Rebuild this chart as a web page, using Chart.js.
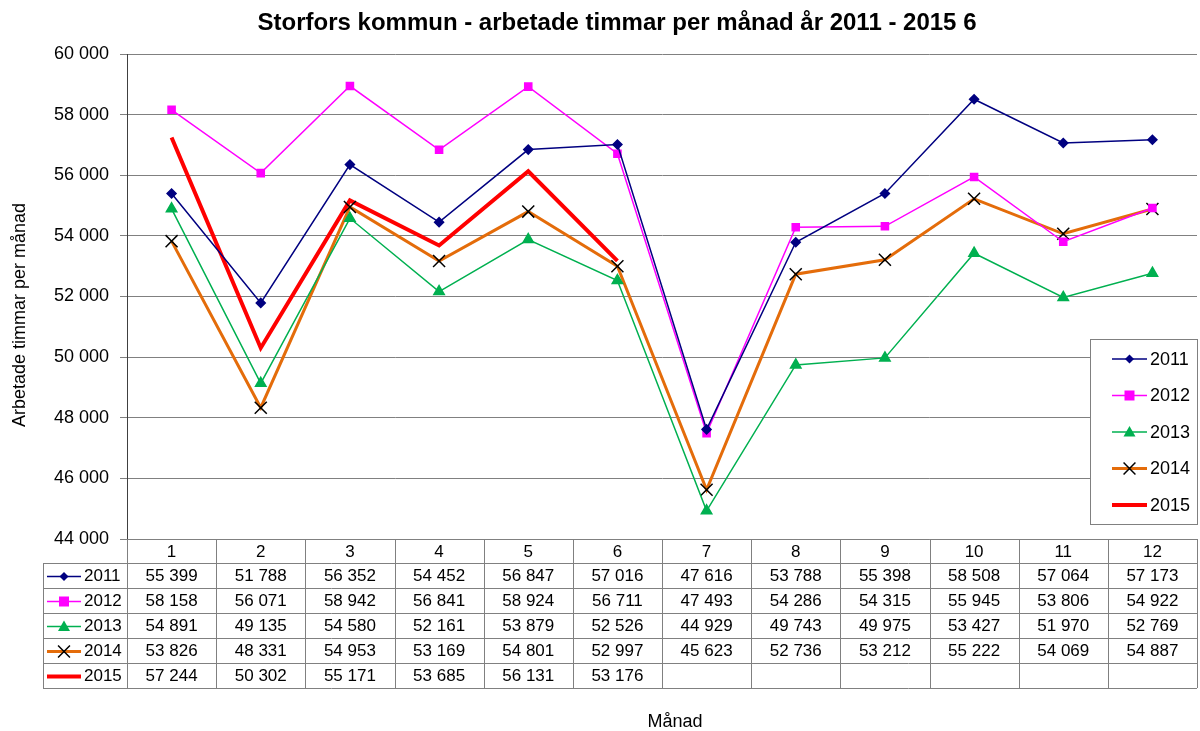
<!DOCTYPE html>
<html>
<head>
<meta charset="utf-8">
<script src="https://cdn.jsdelivr.net/npm/chart.js@4"></script>
<style>
  body { margin: 0; background: #fff; }
  #wrap { width: 1200px; height: 731px; }
</style>
</head>
<body>
<div id="wrap"><canvas id="canvas" width="1200" height="731"></canvas></div>
<script>
const months = ['1', '2', '3', '4', '5', '6', '7', '8', '9', '10', '11', '12'];
const years = ['2011', '2012', '2013', '2014', '2015'];
const v2011 = [55399, 51788, 56352, 54452, 56847, 57016, 47616, 53788, 55398, 58508, 57064, 57173];
const v2012 = [58158, 56071, 58942, 56841, 58924, 56711, 47493, 54286, 54315, 55945, 53806, 54922];
const v2013 = [54891, 49135, 54580, 52161, 53879, 52526, 44929, 49743, 49975, 53427, 51970, 52769];
const v2014 = [53826, 48331, 54953, 53169, 54801, 52997, 45623, 52736, 53212, 55222, 54069, 54887];
const v2015 = [57244, 50302, 55171, 53685, 56131, 53176, null, null, null, null, null, null];
const yTicks = [44000, 46000, 48000, 50000, 52000, 54000, 56000, 58000, 60000];

const FONT = "'Liberation Sans', Arial, sans-serif";
const fmt = v => v == null ? '' : String(v).replace(/\B(?=(\d{3})+(?!\d))/g, ' ');
const PLOT_RIGHT = 1197;

// marker drawing, shared by legend and table
function marker(ctx, ds, x, y) {
  const s = ds.pointStyle, r = ds.pointRadius;
  if (!s || !r) return;
  ctx.save();
  ctx.fillStyle = ds.pointBackgroundColor;
  ctx.strokeStyle = ds.pointBorderColor;
  ctx.lineWidth = 1.5;
  ctx.beginPath();
  if (s === 'rectRot') {
    ctx.moveTo(x, y - r); ctx.lineTo(x + r, y); ctx.lineTo(x, y + r); ctx.lineTo(x - r, y); ctx.closePath(); ctx.fill();
  } else if (s === 'rect') {
    ctx.fillRect(x - r, y - r, 2 * r, 2 * r);
  } else if (s === 'triangle') {
    ctx.moveTo(x, y - r); ctx.lineTo(x + r, y + r * 0.75); ctx.lineTo(x - r, y + r * 0.75); ctx.closePath(); ctx.fill();
  } else if (s === 'crossRot') {
    const h = r * 0.7;
    ctx.moveTo(x - h, y - h); ctx.lineTo(x + h, y + h); ctx.moveTo(x + h, y - h); ctx.lineTo(x - h, y + h); ctx.stroke();
  }
  ctx.restore();
}

function sample(ctx, ds, x0, x1, y) {
  ctx.save();
  ctx.strokeStyle = ds.borderColor;
  ctx.lineWidth = ds.borderWidth;
  ctx.beginPath(); ctx.moveTo(x0, y); ctx.lineTo(x1, y); ctx.stroke();
  ctx.restore();
  marker(ctx, ds, (x0 + x1) / 2, y);
}

const extras = {
  id: 'extras',
  afterLayout(chart) {
    // stretch the plot to the right edge of the picture
    chart.chartArea.right = PLOT_RIGHT;
    chart.chartArea.width = PLOT_RIGHT - chart.chartArea.left;
    const x = chart.scales.x;
    x.right = PLOT_RIGHT;
    x.width = PLOT_RIGHT - x.left;
    x.configure();
  },
  afterDraw(chart) {
    const ctx = chart.ctx, a = chart.chartArea, x = chart.scales.x;
    const ds = chart.data.datasets;
    const half = (x.getPixelForValue(1) - x.getPixelForValue(0)) / 2;
    ctx.save();
    ctx.fillStyle = '#000';
    ctx.textBaseline = 'middle';

    // title + axis titles
    ctx.font = 'bold 24px ' + FONT;
    ctx.textAlign = 'center';
    ctx.fillText('Storfors kommun - arbetade timmar per månad år 2011 - 2015 6', 617, 23);
    ctx.font = '18px ' + FONT;
    ctx.fillText('Månad', 675, 722);
    ctx.save();
    ctx.translate(20, 315);
    ctx.rotate(-Math.PI / 2);
    ctx.fillText('Arbetade timmar per månad', 0, 0);
    ctx.restore();

    // data table
    const headH = 24, rowH = 25, tblLeft = 43;
    const top = a.bottom;
    const bottom = top + headH + rowH * ds.length;
    ctx.strokeStyle = '#808080';
    ctx.lineWidth = 1;
    ctx.beginPath();
    ctx.moveTo(a.left, top + 0.5); ctx.lineTo(a.right, top + 0.5);
    for (let r = 0; r <= ds.length; r++) {
      const yy = Math.round(top + headH + r * rowH) + 0.5;
      ctx.moveTo(tblLeft, yy); ctx.lineTo(a.right, yy);
    }
    ctx.moveTo(tblLeft + 0.5, top + headH); ctx.lineTo(tblLeft + 0.5, bottom);
    for (let i = 0; i <= months.length; i++) {
      const xx = Math.round(x.getPixelForValue(0) - half + i * 2 * half) + 0.5;
      ctx.moveTo(xx, top); ctx.lineTo(xx, bottom);
    }
    ctx.stroke();

    ctx.font = '17px ' + FONT;
    ctx.textAlign = 'center';
    months.forEach((m, i) => ctx.fillText(m, x.getPixelForValue(i), top + headH / 2 + 1));
    ds.forEach((d, r) => {
      const cy = top + headH + r * rowH + rowH / 2 + 1;
      sample(ctx, d, 47, 81, cy);
      ctx.fillStyle = '#000';
      ctx.textAlign = 'left';
      ctx.fillText(d.label, 84, cy);
      ctx.textAlign = 'center';
      d.data.forEach((v, i) => ctx.fillText(fmt(v), x.getPixelForValue(i), cy));
    });

    // legend box
    const lx = 1090, ly = 339, lw = a.right - lx, lh = 185;
    ctx.fillStyle = '#fff';
    ctx.fillRect(lx, ly, lw, lh);
    ctx.strokeStyle = '#808080';
    ctx.strokeRect(lx + 0.5, ly + 0.5, lw, lh);
    ctx.font = '18px ' + FONT;
    ds.forEach((d, r) => {
      const cy = 359 + r * 36.5;
      sample(ctx, d, 1112, 1147, cy);
      ctx.fillStyle = '#000';
      ctx.textAlign = 'left';
      ctx.fillText(d.label, 1150, cy + 1);
    });
    ctx.restore();
  }
};

const ctx = document.getElementById('canvas').getContext('2d');

new Chart(ctx, {
  type: 'line',
  data: {
    labels: months,
    datasets: [
      { label: years[0], data: v2011, borderColor: '#000080', borderWidth: 1.5, pointStyle: 'rectRot', pointRadius: 4.5,
        pointBackgroundColor: '#000080', pointBorderColor: '#000080' },
      { label: years[1], data: v2012, borderColor: '#FF00FF', borderWidth: 1.5, pointStyle: 'rect', pointRadius: 5,
        pointBackgroundColor: '#FF00FF', pointBorderColor: '#FF00FF' },
      { label: years[2], data: v2013, borderColor: '#00B050', borderWidth: 1.5, pointStyle: 'triangle', pointRadius: 6,
        pointBackgroundColor: '#00B050', pointBorderColor: '#00B050' },
      { label: years[3], data: v2014, borderColor: '#E46C0A', borderWidth: 3, pointStyle: 'crossRot', pointRadius: 8.5,
        pointBackgroundColor: '#000', pointBorderColor: '#000', pointBorderWidth: 1.5 },
      { label: years[4], data: v2015, borderColor: '#FF0000', borderWidth: 4, pointStyle: false, pointRadius: 0 }
    ]
  },
  options: {
    responsive: false,
    animation: false,
    layout: { padding: { left: 0, top: 54, right: 3, bottom: 192 } },
    plugins: { legend: { display: false }, title: { display: false }, tooltip: { enabled: false } },
    elements: { line: { tension: 0 } },
    scales: {
      x: { display: false, offset: true },
      y: {
        min: 44000, max: 60000,
        afterFit: s => { s.width = 127; },
        afterBuildTicks: s => { s.ticks = yTicks.map(v => ({ value: v })); },
        ticks: { color: '#000', font: { family: FONT, size: 18 }, padding: 11, callback: v => fmt(v) },
        grid: { color: '#808080', lineWidth: 1, tickLength: 7 },
        border: { color: '#404040', width: 1 }
      }
    }
  },
  plugins: [extras]
});
</script>
</body>
</html>
